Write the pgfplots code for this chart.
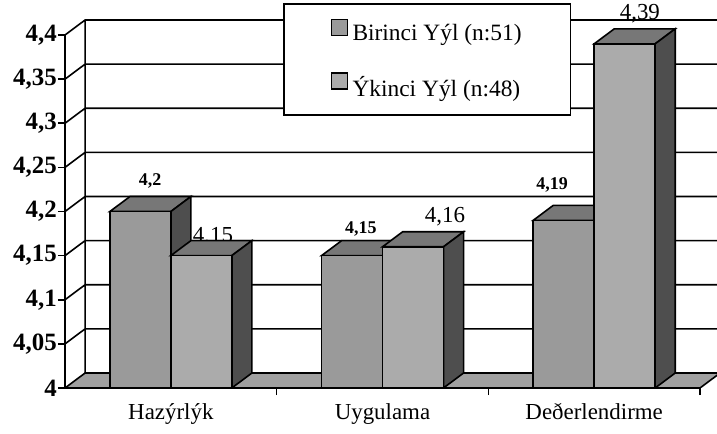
\documentclass[border=0pt]{standalone}
\usepackage{fontspec}
\setmainfont{Liberation Serif}
\usepackage{pgfplots}
\pgfplotsset{compat=1.18}
\definecolor{floorc}{HTML}{A0A0A0}
\definecolor{frontA}{HTML}{9A9A9A}
\definecolor{frontB}{HTML}{ABABAB}
\definecolor{topc}{HTML}{777777}
\definecolor{sidec}{HTML}{4E4E4E}
\begin{document}
\begin{tikzpicture}
\begin{axis}[
  at={(65bp,46bp)}, anchor=south west,
  x=211.67bp, y=882.5bp,
  xmin=-0.5, xmax=2.62, ymin=4, ymax=4.43,
  clip mode=individual,
  axis x line*=bottom, axis y line*=left,
  x axis line style={-, line width=1.6bp, shorten >=25.4bp},
  y axis line style={-, line width=1.6bp, shorten >=26.5bp},
  tick align=outside, major tick length=7bp,
  tick style={line width=1.6bp, black},
  ytick={4,4.05,4.1,4.15,4.2,4.25,4.3,4.35,4.4},
  yticklabels={4,{4,05},{4,1},{4,15},{4,2},{4,25},{4,3},{4,35},{4,4}},
  yticklabel style={font=\fontsize{25}{30}\selectfont\bfseries, inner sep=1bp},
  xtick={0.5,1.5,2.5}, xticklabels={,,},
  extra x ticks={0,1,2},
  extra x tick labels={Hazýrlýk,Uygulama,Deðerlendirme},
  extra x tick style={major tick length=0pt, tick style={draw=none},
    tick label style={font=\fontsize{23}{27}\selectfont, anchor=base, yshift=-31bp}},
  /pgf/number format/assume math mode=true,
  unbounded coords=jump,
  legend style={at={(axis cs:0.530,4.4363)}, anchor=north west, draw=black,
    line width=1.6bp, fill=white, font=\fontsize{23.5}{27}\selectfont,
    inner xsep=47bp, inner ysep=15bp, row sep=28bp},
  legend cell align=left,
]
% floor
\addplot[fill=floorc, draw=black, line width=1.6bp, forget plot]
  coordinates {(-0.5,4) (2.5,4) (2.595,4.017) (-0.405,4.017)} -- cycle;
% grid lines on side and back walls
\addplot[black, line width=1.6bp, forget plot] coordinates {
 (-0.5,4.05) (-0.405,4.067) (2.62,4.067) (0,nan)
 (-0.5,4.1) (-0.405,4.117) (2.62,4.117) (0,nan)
 (-0.5,4.15) (-0.405,4.167) (2.62,4.167) (0,nan)
 (-0.5,4.2) (-0.405,4.217) (2.62,4.217) (0,nan)
 (-0.5,4.25) (-0.405,4.267) (2.62,4.267) (0,nan)
 (-0.5,4.3) (-0.405,4.317) (2.62,4.317) (0,nan)
 (-0.5,4.35) (-0.405,4.367) (2.62,4.367) (0,nan)
 (-0.5,4.4) (-0.405,4.417) (2.62,4.417) (0,nan)
 (-0.405,4.017) (-0.405,4.417)
};
% value labels
\node[anchor=base, font=\fontsize{18}{20}\selectfont\bfseries] at (axis cs:-0.098,4.229) {4,2};
\node[anchor=base, font=\fontsize{23}{26}\selectfont] at (axis cs:0.199,4.1654) {4,15};
\node[anchor=base, font=\fontsize{18}{20}\selectfont\bfseries] at (axis cs:0.898,4.1756) {4,15};
\node[anchor=base, font=\fontsize{23}{26}\selectfont] at (axis cs:1.295,4.187) {4,16};
\node[anchor=base, font=\fontsize{18}{20}\selectfont\bfseries] at (axis cs:1.801,4.2244) {4,19};
\node[anchor=base, font=\fontsize{23}{26}\selectfont] at (axis cs:2.216,4.417) {4,39};
% series 1: tops and sides
\addplot[fill=topc, draw=black, line width=1.6bp, forget plot] coordinates {(-0.288,4.2) (-0.193,4.217) (0.095,4.217) (0,4.2)} -- cycle;
\addplot[fill=sidec, draw=black, line width=1.6bp, forget plot] coordinates {(0,4) (0,4.2) (0.095,4.217) (0.095,4.017)} -- cycle;
\addplot[fill=topc, draw=black, line width=1.6bp, forget plot] coordinates {(0.712,4.15) (0.807,4.167) (1.095,4.167) (1,4.15)} -- cycle;
\addplot[fill=sidec, draw=black, line width=1.6bp, forget plot] coordinates {(1,4) (1,4.15) (1.095,4.167) (1.095,4.017)} -- cycle;
\addplot[fill=topc, draw=black, line width=1.6bp, forget plot] coordinates {(1.712,4.19) (1.807,4.207) (2.095,4.207) (2,4.19)} -- cycle;
\addplot[fill=sidec, draw=black, line width=1.6bp, forget plot] coordinates {(2,4) (2,4.19) (2.095,4.207) (2.095,4.017)} -- cycle;
% series 1 fronts
\addplot[ybar, bar width=0.288, bar shift=-0.144, fill=frontA, draw=black, line width=1.6bp, forget plot]
  coordinates {(0,4.2) (1,4.15) (2,4.19)};
% series 2: tops and sides
\addplot[fill=topc, draw=black, line width=1.6bp, forget plot] coordinates {(0,4.15) (0.095,4.167) (0.383,4.167) (0.288,4.15)} -- cycle;
\addplot[fill=sidec, draw=black, line width=1.6bp, forget plot] coordinates {(0.288,4) (0.288,4.15) (0.383,4.167) (0.383,4.017)} -- cycle;
\addplot[fill=topc, draw=black, line width=1.6bp, forget plot] coordinates {(1,4.16) (1.095,4.177) (1.383,4.177) (1.288,4.16)} -- cycle;
\addplot[fill=sidec, draw=black, line width=1.6bp, forget plot] coordinates {(1.288,4) (1.288,4.16) (1.383,4.177) (1.383,4.017)} -- cycle;
\addplot[fill=topc, draw=black, line width=1.6bp, forget plot] coordinates {(2,4.39) (2.095,4.407) (2.383,4.407) (2.288,4.39)} -- cycle;
\addplot[fill=sidec, draw=black, line width=1.6bp, forget plot] coordinates {(2.288,4) (2.288,4.39) (2.383,4.407) (2.383,4.017)} -- cycle;
% series 2 fronts
\addplot[ybar, bar width=0.288, bar shift=0.144, fill=frontB, draw=black, line width=1.6bp, forget plot]
  coordinates {(0,4.15) (1,4.16) (2,4.39)};
% legend
\addlegendimage{legend image code/.code={\draw[fill=frontA, draw=black, line width=1.4bp] (0bp,-2bp) rectangle (16bp,14bp); \path[draw=none, fill=none] (0bp,0bp) -- (19bp,0bp);}}
\addlegendentry{Birinci Yýl (n:51)}
\addlegendimage{legend image code/.code={\draw[fill=frontB, draw=black, line width=1.4bp] (0bp,-2bp) rectangle (16bp,14bp); \path[draw=none, fill=none] (0bp,0bp) -- (19bp,0bp);}}
\addlegendentry{Ýkinci Yýl (n:48)}
\end{axis}
\pgfresetboundingbox
\path[use as bounding box] (0,0) rectangle (717bp,434bp);
\end{tikzpicture}
\end{document}
